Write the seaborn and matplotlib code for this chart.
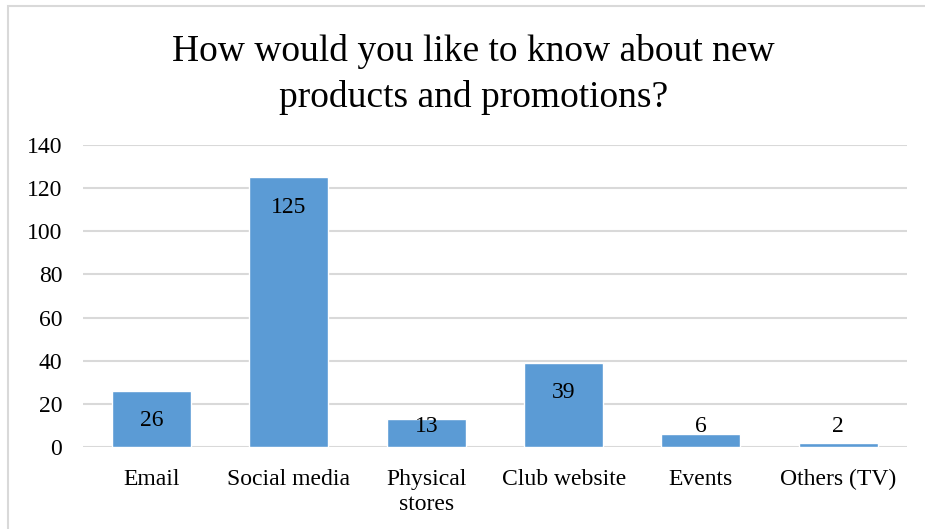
import matplotlib
matplotlib.use("Agg")
import matplotlib.pyplot as plt
import seaborn as sns
import pandas as pd
from matplotlib.patches import Rectangle

channels = ["Email", "Social media", "Physical\nstores", "Club website", "Events", "Others (TV)"]
responses = [26, 125, 13, 39, 6, 2]
y_ticks = [0, 20, 40, 60, 80, 100, 120, 140]
title_lines = ["How would you like to know about new", "products and promotions?"]

sns.set_theme(style="white")
plt.rcParams["font.family"] = ["Liberation Serif", "DejaVu Serif"]

df = pd.DataFrame({"channel": channels, "responses": responses})

W, H = 925, 529
fig = plt.figure(figsize=(W / 100, H / 100), dpi=100)
ax = fig.add_axes([0.0897, 0.155, 0.8908, 0.571])

sns.barplot(data=df, x="channel", y="responses", color="#5B9BD5",
            saturation=1, width=0.575, ax=ax, zorder=3)

ax.set_ylim(0, 140)
ax.set_yticks(y_ticks)
ax.set_xlim(-0.5, len(channels) - 0.5)
ax.set_xlabel("")
ax.set_ylabel("")
for s in ax.spines.values():
    s.set_visible(False)
ax.yaxis.grid(True, color="#D9D9D9", linewidth=1.5, zorder=0)
ax.set_axisbelow(True)
ax.tick_params(axis="both", length=0, labelsize=17, colors="black")
ax.tick_params(axis="y", pad=15)
ax.tick_params(axis="x", pad=16)
for lbl in ax.get_xticklabels():
    lbl.set_linespacing(1.25)

# value labels: inside the bar end, kept above the baseline for short bars
for i, v in enumerate(responses):
    y = max(v - 13.9, 9.4)
    ax.text(i, y, str(v), ha="center", va="center", fontsize=17,
            color="black", zorder=4)

# two-line title, each line set on its own baseline
for line, base_px in zip(title_lines, [61, 107]):
    fig.text(0.5115, 1 - base_px / H, line, ha="center", va="baseline",
             fontsize=27, color="black")

# chart frame
fig.patches.append(Rectangle((8 / W, -0.1), 1.2, 1 - 6 / H + 0.1,
                             transform=fig.transFigure, fill=False,
                             edgecolor="#D9D9D9", linewidth=1.5))

fig.savefig("out.png", dpi=100)
